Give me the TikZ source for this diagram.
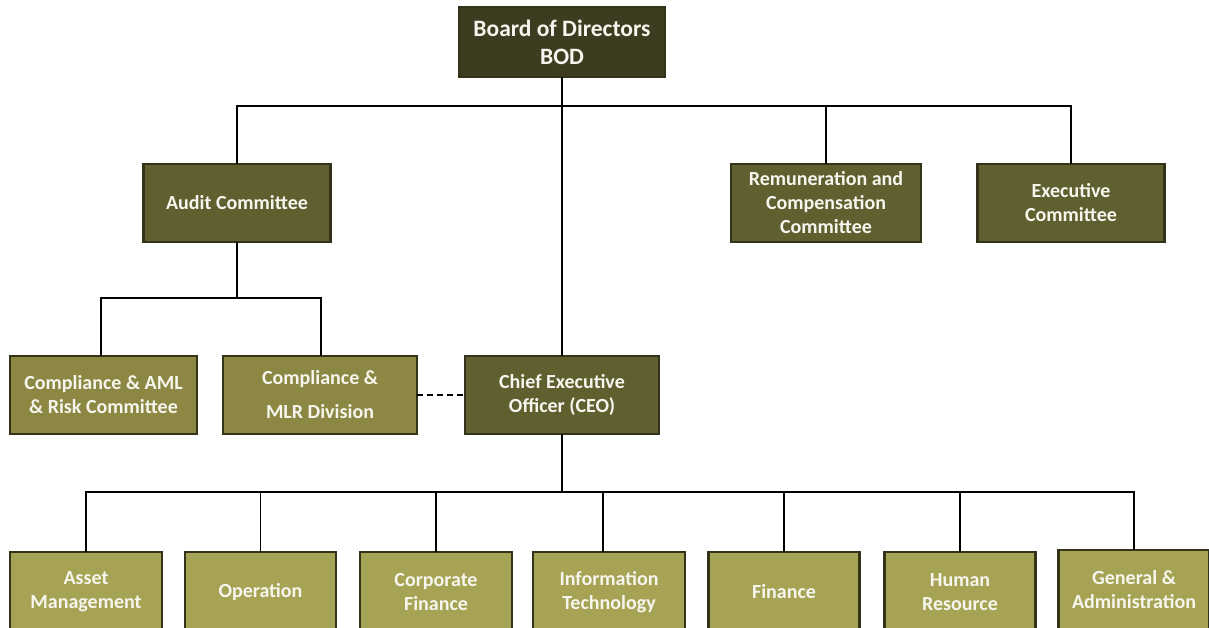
\documentclass[tikz,border=0pt]{standalone}
\usepackage{fontspec}
\setmainfont{Carlito}
\definecolor{bodfill}{HTML}{3D3C20}
\definecolor{midfill}{HTML}{605F30}
\definecolor{compfill}{HTML}{8C8843}
\definecolor{lowfill}{HTML}{A7A354}
\definecolor{edge}{HTML}{33331A}
\definecolor{txt}{HTML}{F6F6EE}
\tikzset{
  box/.style={draw=edge, line width=2.2pt, text=txt, font=\bfseries\fontsize{20}{24}\selectfont, align=center, inner sep=0pt, outer sep=0pt, anchor=north west},
  bod/.style={box, fill=bodfill, font=\bfseries\fontsize{23.5}{28}\selectfont},
  mid/.style={box, fill=midfill},
  comp/.style={box, fill=compfill},
  low/.style={box, fill=lowfill},
  conn/.style={line width=1.3pt, black},
}
\begin{document}
\begin{tikzpicture}[x=1pt,y=-1pt]
\useasboundingbox (0,0) rectangle (1209,628);
% boxes
\node[bod, minimum width=206pt, minimum height=70pt] (bod) at (459,7) {Board of Directors\\BOD};
\node[mid, minimum width=187pt, minimum height=78pt] (audit) at (143.5,164) {Audit Committee};
\node[mid, minimum width=190pt, minimum height=78pt] (rem) at (731,164) {Remuneration and\\Compensation\\Committee};
\node[mid, minimum width=187pt, minimum height=78pt] (exec) at (977.5,164) {Executive\\Committee};
\node[comp, minimum width=187pt, minimum height=78pt] (aml) at (10,356) {Compliance \& AML\\\& Risk Committee};
\node[comp, minimum width=194pt, minimum height=78pt] (mlr) at (223,356) {Compliance \&\\[10pt]MLR Division};
\node[mid, minimum width=194pt, minimum height=78pt] (ceo) at (465,356) {Chief Executive\\Officer (CEO)};
\node[low, minimum width=152pt, minimum height=80pt] (asset) at (10,552) {Asset\\Management};
\node[low, minimum width=151pt, minimum height=80pt] (oper) at (185,552) {Operation};
\node[low, minimum width=152pt, minimum height=80pt] (corp) at (360,552) {Corporate\\Finance};
\node[low, minimum width=152pt, minimum height=80pt] (it) at (533,552) {Information\\Technology};
\node[low, minimum width=151pt, minimum height=80pt] (fin) at (708.5,552) {Finance};
\node[low, minimum width=151pt, minimum height=80pt] (hr) at (884.5,552) {Human\\Resource};
\node[low, minimum width=151pt, minimum height=80pt] (ga) at (1058.5,550) {General \&\\Administration};
% connectors
\draw[conn] (bod.south) -- (ceo.north);
\draw[conn] (audit.north) |- (562,106) -| (exec.north);
\draw[conn] (rem.north) -- (rem.north |- 0,106);
\draw[conn] (audit.south) -- (237,298);
\draw[conn] (101,356) |- (237,298) -| (321,356);
\draw[conn, dashed, dash pattern=on 6pt off 4pt] (mlr.east) -- (ceo.west);
\draw[conn] (ceo.south) -- (562,492);
\draw[conn] (asset.north) |- (562,492) -| (ga.north);
\draw[conn] (oper.north) -- (oper.north |- 0,492);
\draw[conn] (corp.north) -- (corp.north |- 0,492);
\draw[conn] (603,552) -- (603,492);
\draw[conn] (fin.north) -- (fin.north |- 0,492);
\draw[conn] (hr.north) -- (hr.north |- 0,492);
\end{tikzpicture}
\end{document}
